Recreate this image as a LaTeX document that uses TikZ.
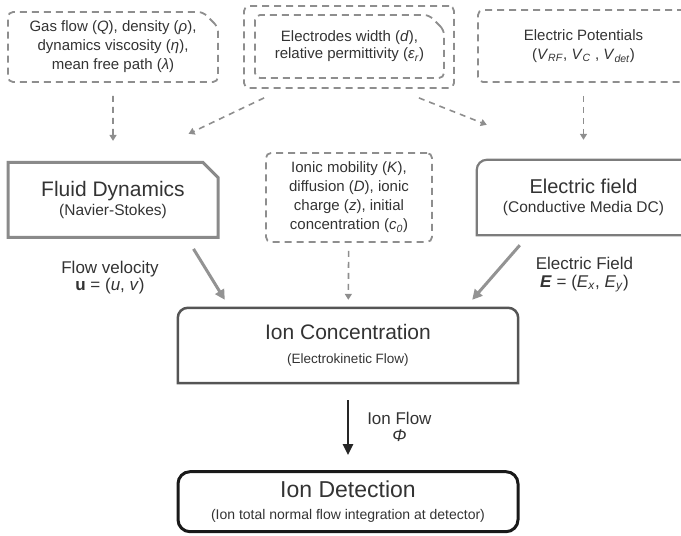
\documentclass[tikz,border=0pt]{standalone}
\usepackage{fontspec}
\setmainfont{Liberation Sans}
\usepackage{tikz}
\usetikzlibrary{positioning}
\usetikzlibrary{arrows.meta}
\usetikzlibrary{shapes.misc}
\definecolor{txtgray}{HTML}{333333}
\definecolor{dashgray}{HTML}{8E8E8E}
\definecolor{boxgray}{HTML}{8A8A8A}
\definecolor{fieldgray}{HTML}{7C7C7C}
\definecolor{concgray}{HTML}{555555}
\newcommand{\isub}[2]{\textit{#1}\textsubscript{\textit{#2}}}
\newcommand{\fs}[1]{\fontsize{#1}{19}\selectfont}
\tikzset{
  % dashed boxes with the input parameters
  param/.style={draw=dashgray, line width=1.8pt, dash pattern=on 7pt off 5pt,
    rounded corners=5pt, align=center, text=txtgray, font=\fs{15}, inner sep=0pt},
  cut/.style={chamfered rectangle, chamfered rectangle corners=north east,
    chamfered rectangle xsep=7pt, chamfered rectangle ysep=8pt},
  % solver blocks
  fluidbox/.style={draw=boxgray, line width=3pt, cut, align=center,
    text=txtgray, font=\fs{21}, inner sep=0pt},
  block/.style={align=center, text=txtgray, inner sep=0pt},
  fieldline/.style={draw=fieldgray, line width=2.2pt},
  concline/.style={draw=concgray, line width=2.5pt},
  detbox/.style={draw=black!90, line width=3pt, rounded corners=12pt,
    align=center, text=txtgray, font=\fs{23}, inner sep=0pt},
  % connectors
  dasharrow/.style={draw=dashgray, line width=1.6pt, dash pattern=on 6pt off 5pt,
    -{Triangle[length=6pt,width=7pt]}},
  feed/.style={draw=gray!85, line width=3pt, -{Triangle[length=10pt,width=10pt]}},
  flow/.style={draw=black!85, line width=2.5pt, -{Triangle[length=11pt,width=10pt]}},
  lbl/.style={align=center, text=txtgray, font=\fontsize{17}{17.5}\selectfont, inner sep=0pt},
}

\begin{document}
\begin{tikzpicture}[x=1pt, y=-1pt]
  \path[use as bounding box, clip] (0,0) rectangle (681,536);

  % inputs
  \node[param, cut, minimum width=210pt, minimum height=70pt] (gas) at (113,47)
    {Gas flow (\textit{Q}), density (\textit{ρ}),\\dynamics viscosity (\textit{η}),\\mean free path (\textit{λ})};
  \node[param, minimum width=210pt, minimum height=82pt] (elecout) at (349,47) {};
  \node[param, cut, minimum width=189pt, minimum height=63pt, font=\fontsize{15}{17}\selectfont] (elec) at (349.5,46.5)
    {Electrodes width (\textit{d}),\\relative permittivity (\isub{ε}{r})};
  \node[param, minimum width=211pt, minimum height=72pt] (pot) at (583.5,46)
    {Electric Potentials\\(\isub{V}{RF}, \isub{V}{C} , \isub{V}{det})};

  % solvers
  \node[fluidbox, minimum width=210pt, minimum height=75pt] (fluid) [below=78pt of gas]
    {Fluid Dynamics\\{\fs{15.5}(Navier-Stokes)}};
  \node[param, minimum width=166pt, minimum height=89pt] (ionic) at (349,197.5)
    {Ionic mobility (\textit{K}),\\diffusion (\textit{D}), ionic\\charge (\textit{z}), initial\\concentration (\isub{c}{0})};
  \node[block, font=\fs{20}, minimum width=213pt, minimum height=75pt] (efield) at (583.5,197.5)
    {Electric field\\{\fs{15.5}(Conductive Media DC)}};
  \draw[fieldline] (efield.south west) -- ([yshift=-10pt]efield.north west)
    arc[start angle=180, end angle=90, radius=10pt] -- (efield.north east)
    -- (efield.south east) -- cycle;
  \node[block, font=\fs{21}, minimum width=340pt, minimum height=75pt] (conc) at (348,345.5)
    {Ion Concentration\\[5pt]{\fs{13.5}(Electrokinetic Flow)}};
  \draw[concline] (conc.south west) -- ([yshift=-10pt]conc.north west)
    arc[start angle=180, end angle=90, radius=10pt] -- ([xshift=-10pt]conc.north east)
    arc[start angle=90, end angle=0, radius=10pt] -- (conc.south east) -- cycle;
  \node[detbox, minimum width=340pt, minimum height=60pt] (det) [below=87pt of conc]
    {Ion Detection\\[3pt]{\fs{14}(Ion total normal flow integration at detector)}};

  % labels
  \node[lbl] (vel) [below=22pt of fluid, xshift=-3pt] {Flow velocity\\\textbf{u} = (\textit{u}, \textit{v})};
  \node[lbl] (fld) [below=22pt of efield, xshift=1pt] {Electric Field\\\textbf{\textit{E}} = (\isub{E}{x}, \isub{E}{y})};

  \draw[dasharrow, shorten <=13pt, shorten >=20pt] (gas) -- (fluid);
  \draw[dasharrow, shorten <=13pt, shorten >=20pt] (pot) -- (efield);
  \draw[dasharrow] ([shift={(21,9)}]elecout.south west) -- ([shift={(-23,-35)}]fluid.north east);
  \draw[dasharrow] ([shift={(-36,9)}]elecout.south east) -- ([shift={(10,-35)}]efield.north west);
  \draw[dasharrow, shorten <=8pt, shorten >=8pt] (ionic) -- (conc);
  \draw[feed] ([shift={(-26,10)}]fluid.south east) -- ([shift={(47,-8)}]conc.north west);
  \draw[feed] ([shift={(43,10)}]efield.south west) -- ([shift={(-46,-8)}]conc.north east);
  \draw[flow, shorten <=17pt, shorten >=15pt] (conc) -- node[lbl, right=18pt] {Ion Flow\\\textit{Φ}} (det);
\end{tikzpicture}
\end{document}
